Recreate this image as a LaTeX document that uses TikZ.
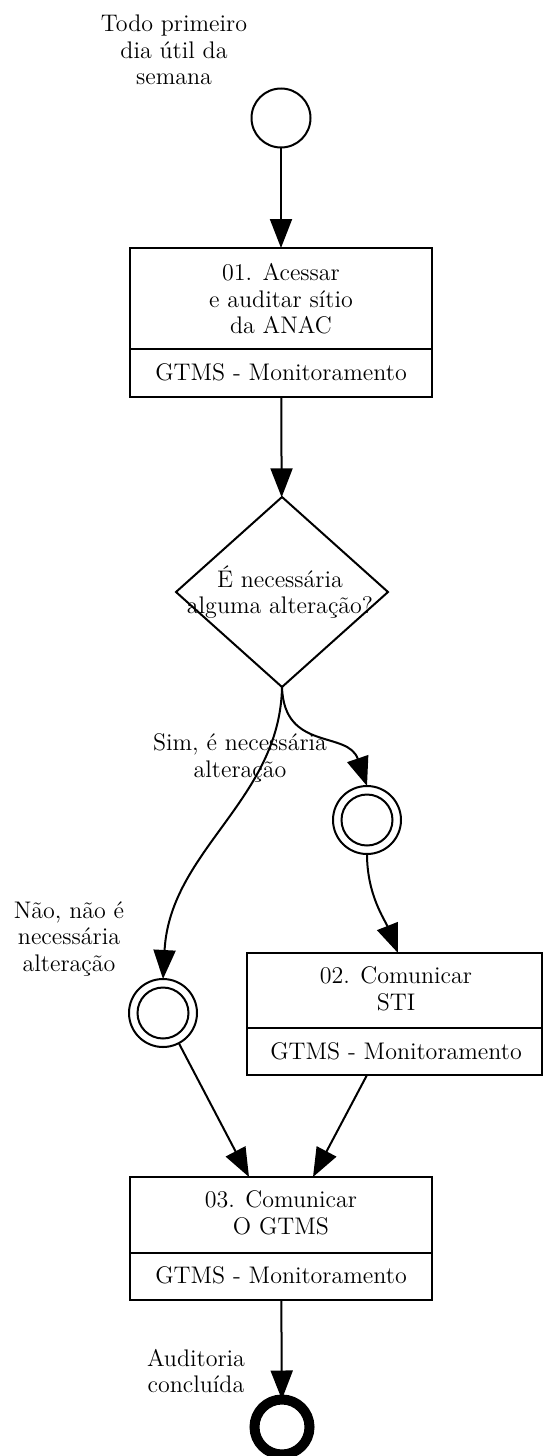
\documentclass[tikz,border=0pt]{standalone}
\usetikzlibrary{arrows.meta,shapes.geometric}
\begin{document}
\begin{tikzpicture}[x=0.5pt,y=-0.5pt,
  every node/.style={font=\fontsize{12}{13.25}\selectfont, inner sep=0pt, outer sep=0pt},
  flow/.style={line width=1pt, -{Triangle[length=14.5pt,width=11pt]}},
  taskbox/.style={draw, line width=1pt, rectangle},
  lbl/.style={align=center},
  dring/.style={circle, draw, line width=1pt, minimum size=34pt}]
\useasboundingbox (0,0) rectangle (544,1456);

% start event
\node[lbl] (tstart) at (174,50) {Todo primeiro\\dia útil da\\semana};
\node[circle, draw, line width=1pt, minimum size=29.5pt] (s) at (281,118) {};

% task 01
\node[taskbox, minimum width=151pt, minimum height=74.5pt] (b1) at (281,322.5) {};
\coordinate (d1) at (0,349);
\draw[line width=1pt] (b1.west |- d1) -- (b1.east |- d1);
\node[lbl] (t1) at (281,299) {01. Acessar\\e auditar sítio\\da ANAC};
\node (r1) at (281,372) {GTMS - Monitoramento};

% gateway
\node[diamond, draw, line width=1pt, minimum width=106pt, minimum height=95pt] (d) at (282,592) {};
\node[lbl] (td) at (280,592) {É necessária\\alguma alteração?};

% intermediate events
\node[dring] (c1) at (367,820) {};
\draw[line width=1pt] (c1.center) circle[radius=12.75pt];
\node[dring] (c2) at (163,1013) {};
\draw[line width=1pt] (c2.center) circle[radius=12.75pt];

\node[lbl] (lsim) at (240,758) {Sim, é necessária\\alteração};
\node[lbl] (lnao) at (69,939) {Não, não é\\necessária\\alteração};

% task 02
\node[taskbox, minimum width=147.5pt, minimum height=61pt] (b2) at (394.5,1014) {};
\coordinate (d2) at (0,1028);
\draw[line width=1pt] (b2.west |- d2) -- (b2.east |- d2);
\node[lbl] (t2) at (396,989) {02. Comunicar\\STI};
\node (r2) at (396,1051) {GTMS - Monitoramento};

% task 03
\node[taskbox, minimum width=151pt, minimum height=61.5pt] (b3) at (281,1238.5) {};
\coordinate (d3) at (0,1253);
\draw[line width=1pt] (b3.west |- d3) -- (b3.east |- d3);
\node[lbl] (t3) at (281,1213) {03. Comunicar\\O GTMS};
\node (r3) at (281,1275) {GTMS - Monitoramento};

% end event
\node[circle, draw, line width=5pt, minimum size=27.5pt] (e) at (282,1427) {};
\node[lbl] (lend) at (196,1371) {Auditoria\\concluída};

% connector anchors
\coordinate (b2in) at (398,953);
\coordinate (b2out) at (367,1075);
\coordinate (b3inA) at (249,1177);
\coordinate (b3inB) at (313,1177);

% connectors
\draw[flow] (s) -- (b1);
\draw[flow] (b1) -- (d);
\draw[flow] (d.south) .. controls (280,800) and (170,850) .. (c2.north);
\draw[flow] (d.south) .. controls (284,752) and (348,730) .. (c1.north);
\draw[flow] (c1.south) .. controls (367,895) and (385,920) .. (b2in);
\draw[flow] (c2) -- (b3inA);
\draw[flow] (b2out) -- (b3inB);
\draw[flow] (b3) -- (e);
\end{tikzpicture}
\end{document}
